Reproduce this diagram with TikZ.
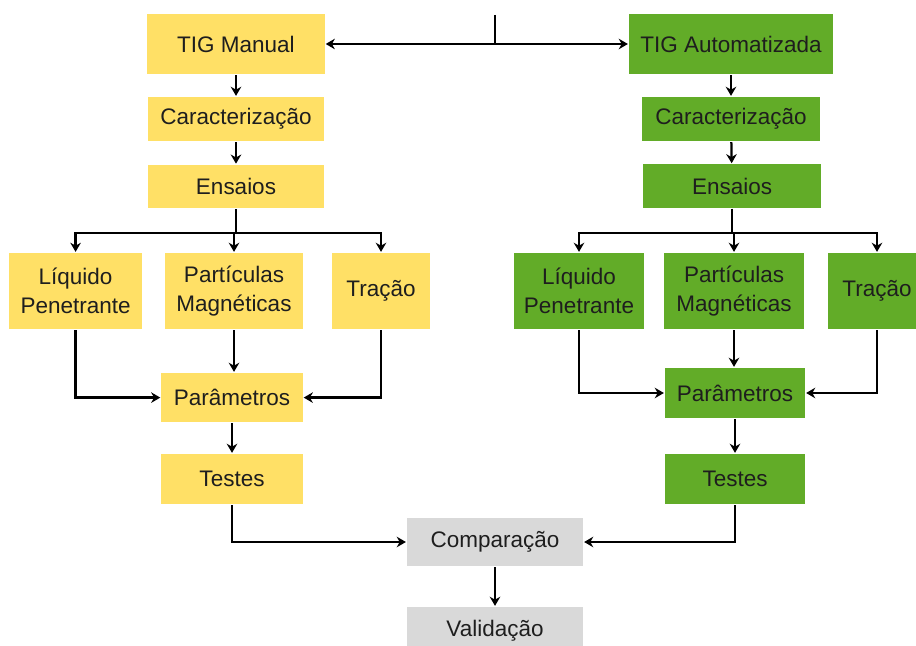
\documentclass[tikz,border=0pt]{standalone}
\usepackage{fontspec}
\setmainfont{Liberation Sans}
\usetikzlibrary{arrows.meta}
\definecolor{amarelo}{RGB}{255,224,102}
\definecolor{verde}{RGB}{98,172,40}
\definecolor{cinza}{RGB}{217,217,217}
\definecolor{texto}{RGB}{30,30,30}
\tikzstyle{caixa}=[rectangle,inner sep=0pt,align=center,text=texto,font=\fontsize{16}{20.5}\selectfont]
\tikzstyle{manual}=[caixa,fill=amarelo]
\tikzstyle{auto}=[caixa,fill=verde]
\tikzstyle{final}=[caixa,fill=cinza]

\begin{document}
\begin{tikzpicture}[>={Stealth[length=6.5pt,width=7.5pt]},line width=1.6pt]
  \useasboundingbox (0,0) rectangle (22.9,-16.15);
  % ramo manual
  \node[manual,minimum width=4.43cm,minimum height=1.48cm] (tigm) at (5.9,-1.1) {TIG Manual};
  \node[manual,minimum width=4.4cm,minimum height=1.1cm] (caram) at (5.9,-2.975) {Caracterização}
    edge [<-] (tigm);
  \node[manual,minimum width=4.4cm,minimum height=1.08cm] (ensm) at (5.9,-4.66) {Ensaios}
    edge [<-] (caram);
  \node[manual,minimum width=3.33cm,minimum height=1.9cm] (liqm) at (1.89,-7.275) {Líquido\\Penetrante};
  \node[manual,minimum width=3.45cm,minimum height=1.9cm] (partm) at (5.85,-7.275) {Partículas\\Magnéticas};
  \node[manual,minimum width=2.45cm,minimum height=1.9cm] (tracm) at (9.525,-7.275) {Tração};
  \node[manual,minimum width=3.53cm,minimum height=1.23cm] (parm) at (5.8,-9.94) {Parâmetros};
  \node[manual,minimum width=3.53cm,minimum height=1.25cm] (testm) at (5.8,-11.975) {Testes}
    edge [<-] (parm);

  % ramo automatizado
  \node[auto,minimum width=5.1cm,minimum height=1.48cm] (tiga) at (18.275,-1.1) {TIG Automatizada};
  \node[auto,minimum width=4.45cm,minimum height=1.1cm] (caraa) at (18.275,-2.975) {Caracterização}
    edge [<-] (tiga);
  \node[auto,minimum width=4.43cm,minimum height=1.08cm] (ensa) at (18.3,-4.65) {Ensaios}
    edge [<-] (caraa);
  \node[auto,minimum width=3.25cm,minimum height=1.9cm] (liqa) at (14.475,-7.275) {Líquido\\Penetrante};
  \node[auto,minimum width=3.5cm,minimum height=1.9cm] (parta) at (18.35,-7.275) {Partículas\\Magnéticas};
  \node[auto,minimum width=2.45cm,minimum height=1.9cm] (traca) at (21.925,-7.275) {Tração};
  \node[auto,minimum width=3.5cm,minimum height=1.25cm] (para) at (18.375,-9.825) {Parâmetros};
  \node[auto,minimum width=3.5cm,minimum height=1.25cm] (testa) at (18.375,-11.975) {Testes}
    edge [<-] (para);

  % comparacao
  \node[final,minimum width=4.4cm,minimum height=1.2cm] (comp) at (12.375,-13.55) {Comparação};
  \node[final,minimum width=4.4cm,minimum height=1.2cm] (valid) at (12.375,-15.775) {Validação}
    edge [<-] (comp);

  % topo
  \coordinate (topo) at (12.375,-0.375);
  \draw (topo) -- (topo |- tigm) coordinate (junta);
  \draw[->] (junta) -- (tigm.east);
  \draw[->] (junta) -- (tiga.west);

  % ramificacoes
  \coordinate (bm) at (5.9,-5.825);
  \coordinate (ba) at (18.3,-5.825);
  \draw (ensm) -- (bm);
  \draw[->] (bm) -| (partm.north);
  \draw[->] (bm) -| (liqm.north);
  \draw[->] (bm) -| (tracm.north);
  \draw (ensa) -- (ba);
  \draw[->] (ba) -| (parta.north);
  \draw[->] (ba) -| (liqa.north);
  \draw[->] (ba) -| (traca.north);

  \draw[->] (partm.south) -- (partm.south |- parm.north);
  \draw[->] (parta.south) -- (parta.south |- para.north);
  \draw[->] (liqm.south) |- (parm.west);
  \draw[->] (tracm.south) |- (parm.east);
  \draw[->] (liqa.south) |- (para.west);
  \draw[->] (traca.south) |- (para.east);

  \draw[->] (testm.south) |- (comp.west);
  \draw[->] (testa.south) |- (comp.east);
\end{tikzpicture}
\end{document}
